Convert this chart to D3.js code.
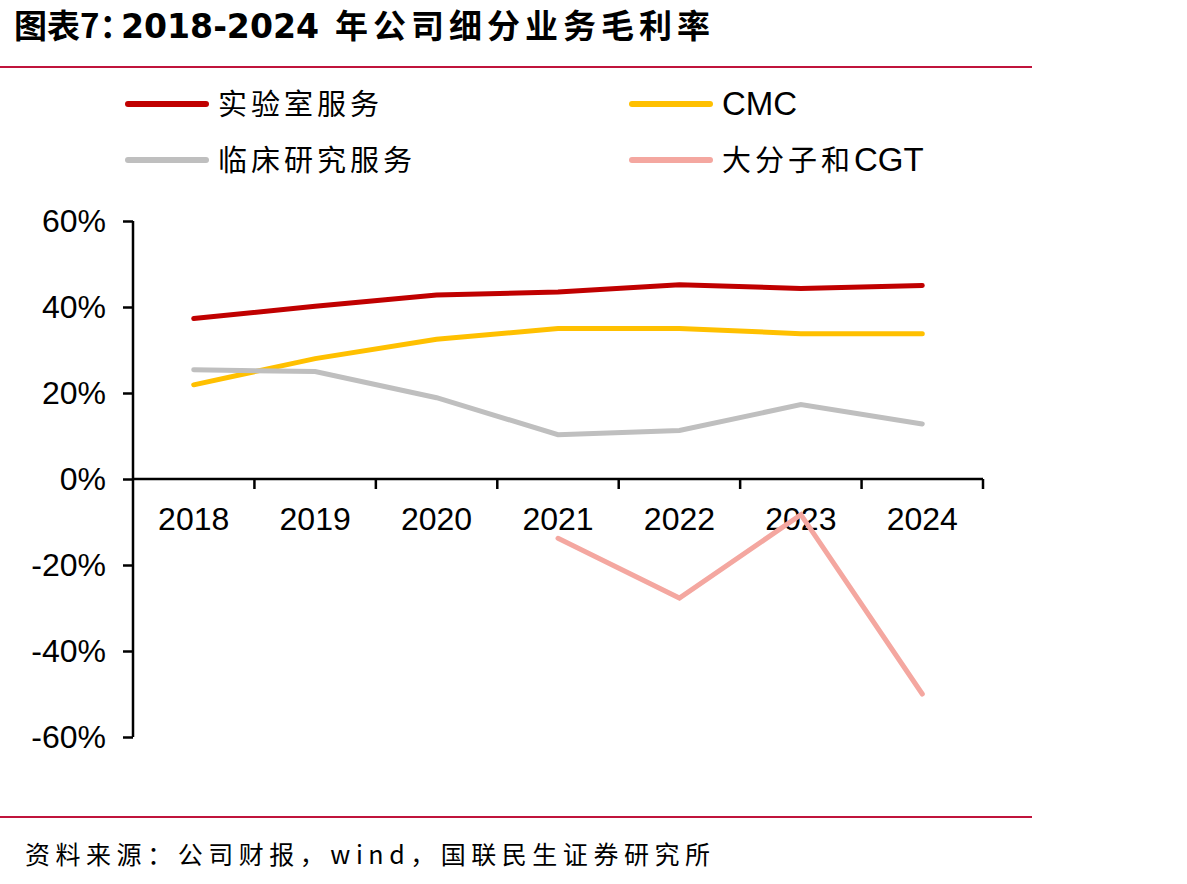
<!DOCTYPE html>
<html>
<head>
<meta charset="utf-8">
<script src="https://cdn.jsdelivr.net/npm/d3@7"></script>
<style>
  body { margin: 0; background: #fff; }
  svg { display: block; }
  .axis text { font-family: "Liberation Sans", Arial, sans-serif; font-size: 32px; fill: #000; }
  .axis line, .axis path { stroke: #000; stroke-width: 2.5; }
</style>
</head>
<body>
<div id="chart"></div>
<script>
const years = ["2018", "2019", "2020", "2021", "2022", "2023", "2024"];
const labService = [37.3, 40.2, 42.8, 43.5, 45.2, 44.3, 45.0];
const cmc = [21.9, 28.0, 32.5, 35.0, 35.0, 33.8, 33.8];
const clinical = [25.4, 25.0, 18.9, 10.3, 11.3, 17.3, 12.8];
const bioCgt = [null, null, null, -13.8, -27.7, -8.3, -50.0];
const yTicks = [-60, -40, -20, 0, 20, 40, 60];

const series = [
  { name: ["实验室服务", ""], values: labService, color: "#C00000" },
  { name: ["", "CMC"], values: cmc, color: "#FFC000" },
  { name: ["临床研究服务", ""], values: clinical, color: "#BFBFBF" },
  { name: ["大分子和", "CGT"], values: bioCgt, color: "#F4A7A0" },
];

const width = 1187, height = 884;
const margin = { top: 221, right: 204, bottom: 147, left: 133 };
const cjk = "Noto Sans CJK SC";

const svg = d3.select("#chart").append("svg")
  .attr("width", width).attr("height", height);

// title + rules
const title = svg.append("text")
  .attr("y", 38)
  .attr("font-family", cjk)
  .attr("font-weight", "bold")
  .attr("font-size", 33);
title.append("tspan").attr("x", 14).text("图表7：");
title.append("tspan").attr("x", 121).attr("font-family", "DejaVu Sans")
  .attr("textLength", 198).attr("lengthAdjust", "spacingAndGlyphs").text("2018-2024");
title.append("tspan").attr("x", 335).attr("textLength", 375).text("年公司细分业务毛利率");

svg.append("line").attr("x1", 0).attr("x2", 1032).attr("y1", 67).attr("y2", 67)
  .attr("stroke", "#C0143C").attr("stroke-width", 2);
svg.append("line").attr("x1", 0).attr("x2", 1032).attr("y1", 817).attr("y2", 817)
  .attr("stroke", "#C0143C").attr("stroke-width", 2);
svg.append("text")
  .attr("x", 25).attr("y", 864)
  .attr("font-family", cjk)
  .attr("font-size", 25)
  .attr("textLength", 685)
  .text("资料来源：公司财报，wind，国联民生证券研究所");

const x = d3.scaleBand().domain(years).range([margin.left, width - margin.right]);
const y = d3.scaleLinear().domain([-60, 60]).range([height - margin.bottom, margin.top]);

// y axis
svg.append("g").attr("class", "axis")
  .attr("transform", `translate(${margin.left},0)`)
  .call(d3.axisLeft(y).tickValues(yTicks).tickFormat((d) => d + "%").tickSizeOuter(0).tickSize(10).tickPadding(17))
  .call((g) => g.select(".domain").attr("d", `M0,${y(60)}V${y(-60)}`));

// x axis at zero, ticks at band boundaries
const gx = svg.append("g").attr("class", "axis")
  .attr("transform", `translate(0,${y(0)})`);
gx.append("line").attr("x1", margin.left).attr("x2", width - margin.right);
const bounds = years.slice(1).map((d) => x(d)).concat([width - margin.right]);
gx.selectAll(".xtick").data(bounds).join("line")
  .attr("class", "xtick")
  .attr("x1", (d) => d).attr("x2", (d) => d).attr("y1", 0).attr("y2", 10);
gx.selectAll(".xlabel").data(years).join("text")
  .attr("class", "xlabel")
  .attr("x", (d) => x(d) + x.bandwidth() / 2)
  .attr("y", 51)
  .attr("text-anchor", "middle")
  .text((d) => d);

// lines
const line = d3.line()
  .defined((d) => d[1] != null)
  .x((d) => x(d[0]) + x.bandwidth() / 2)
  .y((d) => y(d[1]));

svg.append("g").selectAll("path").data(series).join("path")
  .attr("fill", "none")
  .attr("stroke", (d) => d.color)
  .attr("stroke-width", 5)
  .attr("stroke-linecap", "round")
  .attr("d", (d) => line(years.map((yr, i) => [yr, d.values[i]])));

// legend
const legendPos = [[128, 104], [632, 104], [128, 160], [632, 160]];
const lg = svg.append("g").selectAll("g").data(series).join("g")
  .attr("transform", (d, i) => `translate(${legendPos[i][0]},${legendPos[i][1]})`);
lg.append("line").attr("x1", 0).attr("x2", 78)
  .attr("stroke", (d) => d.color).attr("stroke-width", 6).attr("stroke-linecap", "round");
const lt = lg.append("text")
  .attr("x", 90).attr("y", 11);
lt.append("tspan")
  .attr("font-family", cjk).attr("font-size", 29).attr("letter-spacing", 4)
  .text((d) => d.name[0]);
lt.append("tspan")
  .attr("font-family", "Liberation Sans").attr("font-size", 33)
  .text((d) => d.name[1]);
</script>
</body>
</html>
